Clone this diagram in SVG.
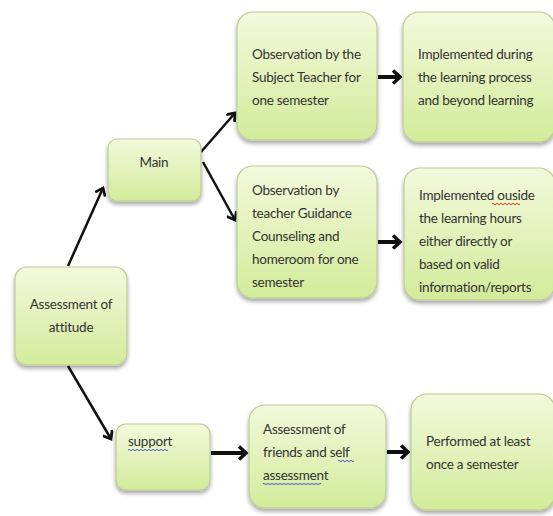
<svg xmlns="http://www.w3.org/2000/svg" width="553" height="516" viewBox="0 0 553 516">
<defs>
<linearGradient id="g" x1="0" y1="0" x2="0" y2="1">
<stop offset="0" stop-color="#f3f9dc"/>
<stop offset="1" stop-color="#d3eb9b"/>
</linearGradient>
<filter id="sh" x="-10%" y="-10%" width="120%" height="125%">
<feGaussianBlur in="SourceAlpha" stdDeviation="2"/>
<feOffset dy="3" result="b"/>
<feComponentTransfer><feFuncA type="linear" slope="0.35"/></feComponentTransfer>
<feMerge><feMergeNode/><feMergeNode in="SourceGraphic"/></feMerge>
</filter>
<marker id="ah" markerWidth="12" markerHeight="12" refX="8" refY="6" orient="auto" markerUnits="userSpaceOnUse">
<path d="M1,0.5 L8,6 L1,11.5" fill="none" stroke="#111" stroke-width="2.8" stroke-linejoin="miter"/>
</marker>
<marker id="ah2" markerWidth="12" markerHeight="16" refX="9" refY="8" orient="auto" markerUnits="userSpaceOnUse">
<path d="M2,1.5 L9,8 L2,14.5" fill="none" stroke="#111" stroke-width="3.5"/>
</marker>
</defs>
<style>
.box{fill:url(#g);stroke:#bccb94;stroke-width:1.2;filter:url(#sh)}
text{font-family:Lato,"Open Sans","Liberation Sans",sans-serif;font-size:13.5px;letter-spacing:-0.25px;fill:#333}
.c{stroke:#111;stroke-width:2.5;fill:none;marker-end:url(#ah)}
.t{stroke:#111;stroke-width:4;fill:none;marker-end:url(#ah2)}
.wr{fill:none;stroke:#d33;stroke-width:1}
.wb{fill:none;stroke:#4a5ad0;stroke-width:1}
</style>
<rect width="553" height="516" fill="#fff"/>
<g id="connectors">
<line class="c" x1="68" y1="266" x2="103" y2="188"/>
<line class="c" x1="68" y1="366" x2="111" y2="439"/>
<line class="c" x1="201" y1="152" x2="235" y2="113"/>
<line class="c" x1="203" y1="162" x2="235" y2="220"/>
<line class="t" x1="378" y1="77" x2="400" y2="77"/>
<line class="t" x1="378" y1="242" x2="400" y2="242"/>
<line class="t" x1="211" y1="453" x2="246" y2="453"/>
<line class="t" x1="387" y1="452" x2="408" y2="452"/>
</g>
<g id="obs1">
<rect class="box" x="237" y="12" width="140" height="128" rx="16"/>
<text x="252" y="59">Observation by the</text>
<text x="252" y="82">Subject Teacher for</text>
<text x="252" y="105">one semester</text>
</g>
<g id="impl1">
<rect class="box" x="403" y="12" width="152" height="130" rx="16"/>
<text x="418" y="59">Implemented during</text>
<text x="418" y="82">the learning process</text>
<text x="418" y="105">and beyond learning</text>
</g>
<g id="main">
<rect class="box" x="108" y="139" width="93" height="62" rx="9"/>
<text x="154" y="167" text-anchor="middle">Main</text>
</g>
<g id="obs2">
<rect class="box" x="237" y="166" width="140" height="132" rx="16"/>
<text x="252" y="195">Observation by</text>
<text x="252" y="218">teacher Guidance</text>
<text x="252" y="241">Counseling and</text>
<text x="252" y="264">homeroom for one</text>
<text x="252" y="287">semester</text>
</g>
<g id="impl2">
<rect class="box" x="404" y="168" width="151" height="132" rx="16"/>
<text x="419" y="200">Implemented ouside</text>
<text x="419" y="223">the learning hours</text>
<text x="419" y="246">either directly or</text>
<text x="419" y="269">based on valid</text>
<text x="419" y="292">information/reports</text>
<path class="wr" d="M492,204 q1,-1.5 2,0 t2,0 t2,0 t2,0 t2,0 t2,0 t2,0 t2,0 t2,0 t2,0 t2,0 t2,0 t2,0 t2,0"/>
</g>
<g id="assessment">
<rect class="box" x="15" y="267" width="112" height="98" rx="12"/>
<text x="71" y="309" text-anchor="middle">Assessment of</text>
<text x="71" y="332" text-anchor="middle">attitude</text>
</g>
<g id="support">
<rect class="box" x="116" y="424" width="94" height="66" rx="10"/>
<text x="128" y="446">support</text>
<path class="wb" d="M128,450 q1,-1.5 2,0 t2,0 t2,0 t2,0 t2,0 t2,0 t2,0 t2,0 t2,0 t2,0 t2,0 t2,0 t2,0 t2,0 t2,0 t2,0 t2,0 t2,0 t2,0 t2,0"/>
</g>
<g id="friends">
<rect class="box" x="249" y="405" width="137" height="103" rx="16"/>
<text x="263" y="434">Assessment of</text>
<text x="263" y="457">friends and self</text>
<text x="263" y="480">assessment</text>
<path class="wb" d="M338,461 q1,-1.5 2,0 t2,0 t2,0 t2,0 t2,0 t2,0 t2,0 t2,0"/>
<path class="wb" d="M263,484 q1,-1.5 2,0 t2,0 t2,0 t2,0 t2,0 t2,0 t2,0 t2,0 t2,0 t2,0 t2,0 t2,0 t2,0 t2,0 t2,0 t2,0 t2,0 t2,0 t2,0 t2,0 t2,0 t2,0 t2,0 t2,0 t2,0 t2,0 t2,0 t2,0 t2,0"/>
</g>
<g id="performed">
<rect class="box" x="411" y="394" width="144" height="116" rx="16"/>
<text x="426" y="446">Performed at least</text>
<text x="426" y="469">once a semester</text>
</g>
</svg>
